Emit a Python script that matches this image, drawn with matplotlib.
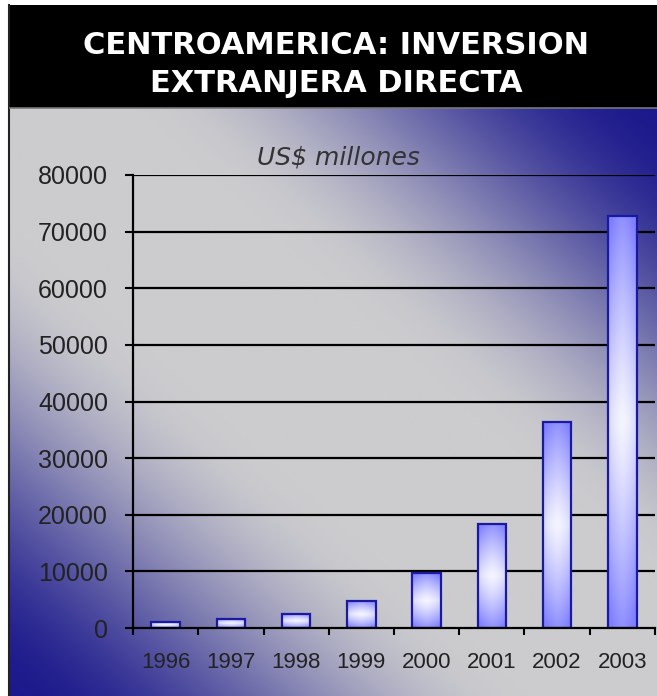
import numpy as np
import matplotlib
matplotlib.use("Agg")
import matplotlib.pyplot as plt
from matplotlib.patches import Rectangle

# ---- data ----
years = ["1996", "1997", "1998", "1999", "2000", "2001", "2002", "2003"]
values = [1100, 1600, 2500, 4800, 9700, 18400, 36400, 72800]
yticks = [0, 10000, 20000, 30000, 40000, 50000, 60000, 70000, 80000]
title_lines = ["CENTROAMERICA: INVERSION", "EXTRANJERA DIRECTA"]
subtitle = "US$ millones"

W, H = 657, 696
fig = plt.figure(figsize=(W / 100, H / 100), dpi=100)
fig.patch.set_facecolor("white")

# ---- background axes in pixel coordinates ----
bg = fig.add_axes([0, 0, 1, 1])
bg.set_xlim(0, W)
bg.set_ylim(H, 0)
bg.axis("off")

gx0, gx1, gy0, gy1 = 10, W, 108, H
nx, ny = 400, 400
xn = np.linspace(0, 1, nx)[None, :]
yn = np.linspace(0, 1, ny)[:, None]
t = np.abs(xn - yn)
s = np.clip((t - 0.2) / 0.8, 0, 1)
f = s * s * (3 - 2 * s)
gray = np.array([0.80, 0.80, 0.81])
blue = np.array([0.11, 0.10, 0.55])
img = gray[None, None, :] * (1 - f[..., None]) + blue[None, None, :] * f[..., None]
bg.imshow(img, extent=[gx0, gx1, gy1, gy0], aspect="auto", interpolation="bilinear", zorder=0)
bg.add_patch(Rectangle((gx0, 5), gx1 - gx0, 103, facecolor="black", edgecolor="none", zorder=1))
bg.plot([gx0 - 1, gx0 - 1], [5, H], color="#222222", lw=1.5, zorder=2)
bg.plot([gx0, gx1], [108, 108], color="#777777", lw=1.2, zorder=2)

bg.text(336, 45, title_lines[0], color="white", fontsize=22, fontweight="bold",
        family="DejaVu Sans", ha="center", va="center", zorder=3)
bg.text(336, 83, title_lines[1], color="white", fontsize=22, fontweight="bold",
        family="DejaVu Sans", ha="center", va="center", zorder=3)
bg.text(338, 158, subtitle, color="#333333", fontsize=18, style="italic",
        family="DejaVu Sans", ha="center", va="center", zorder=3)

# ---- main axes ----
left, right = 133, 655
top, bottom = 175, 628
ax = fig.add_axes([left / W, (H - bottom) / H, (right - left) / W, (bottom - top) / H])
ax.patch.set_alpha(0)
n = len(years)
ax.set_xlim(0, n)
ax.set_ylim(0, 80000)

for v in yticks[1:]:
    ax.axhline(v, color="black", lw=1.6, zorder=1)

# bars
xpos = np.arange(n) + 0.5
bw = 0.44
bars = ax.bar(xpos, values, width=bw, facecolor="none", edgecolor="#1a1aa0", lw=1.6, zorder=4)

gh, gw = 64, 64
hx = np.abs(np.linspace(-1, 1, gw))[None, :]
vy = np.abs(np.linspace(-1, 1, gh))[:, None]
fb = np.clip(0.25 * hx ** 1.5 + 0.85 * vy ** 1.2, 0, 1)
white = np.array([0.96, 0.96, 1.0])
bblue = np.array([0.50, 0.50, 1.0])
bimg = white[None, None, :] * (1 - fb[..., None]) + bblue[None, None, :] * fb[..., None]
for rect, v in zip(bars, values):
    x0 = rect.get_x()
    ax.imshow(bimg, extent=[x0, x0 + bw, 0, v], aspect="auto", zorder=3,
              interpolation="bilinear")
ax.set_xlim(0, n)
ax.set_ylim(0, 80000)

for sp in ["top", "right"]:
    ax.spines[sp].set_visible(False)
for sp in ["left", "bottom"]:
    ax.spines[sp].set_color("black")
    ax.spines[sp].set_linewidth(1.6)
    ax.spines[sp].set_zorder(5)

ax.set_yticks(yticks)
ax.set_yticklabels([str(v) for v in yticks], fontsize=18, family="Liberation Sans", color="#222222")
ax.tick_params(axis="y", direction="out", length=6, width=1.5, pad=12)

ax.set_xticks(np.arange(n + 1))
ax.set_xticklabels([])
ax.tick_params(axis="x", which="major", direction="out", length=5, width=1.5)
ax.set_xticks(xpos, minor=True)
ax.set_xticklabels(years, minor=True, fontsize=16, family="Liberation Sans", color="#222222")
ax.tick_params(axis="x", which="minor", length=0, pad=17)

fig.savefig("out.png", dpi=100)
